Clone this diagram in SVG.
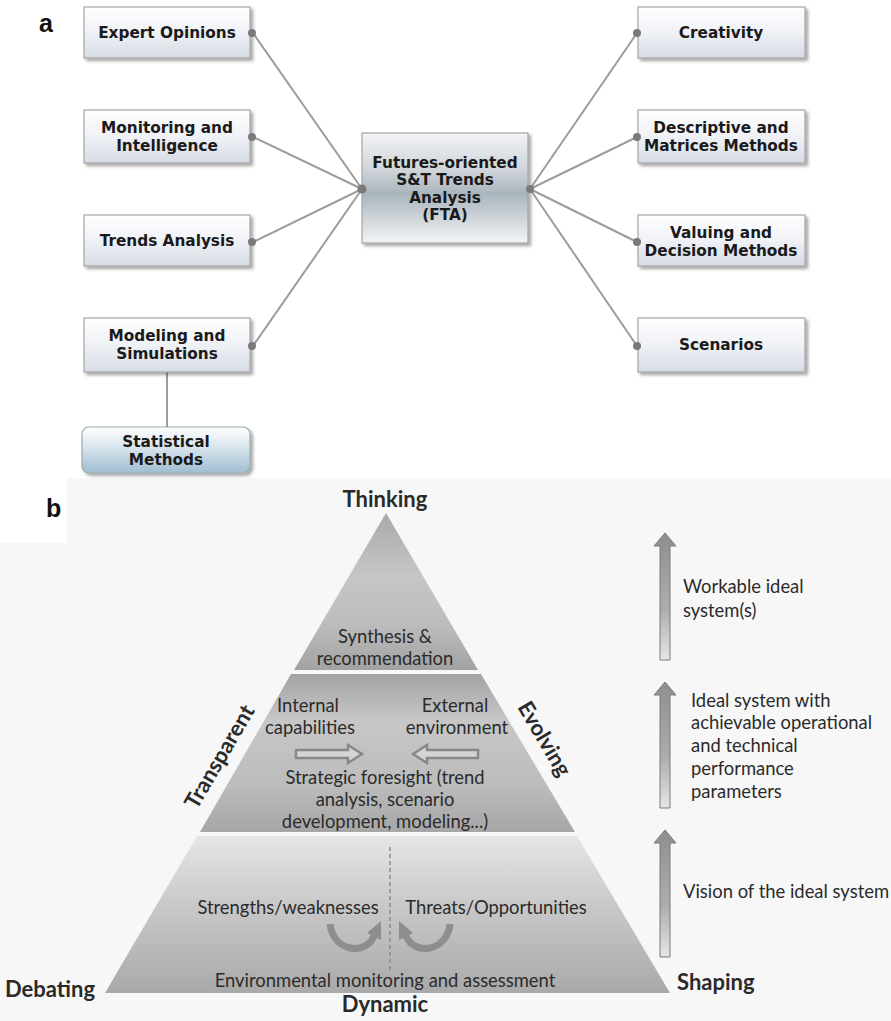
<svg xmlns="http://www.w3.org/2000/svg" width="891" height="1021" viewBox="0 0 891 1021">
<defs>
<style>
.box{fill:url(#boxGrad);stroke:#a4a4a4;stroke-width:1.2;filter:url(#sh)}
.bt{font-family:"DejaVu Sans",Verdana,sans-serif;font-weight:bold;font-size:15.3px;fill:#1a1a1a;text-anchor:middle}
.lab{font-family:"Liberation Sans",Arial,sans-serif;font-weight:bold;font-size:25px;fill:#111}
.con{stroke:#9c9c9c;stroke-width:2;fill:none}
.dot{fill:#7a7a7a}
.pt{font-family:Lato,"Open Sans",sans-serif;font-size:18.4px;fill:#2b2b2b;text-anchor:middle}
.pl{font-family:Lato,"Open Sans",sans-serif;font-size:18.4px;fill:#2b2b2b}
.big{font-family:Lato,"Open Sans",sans-serif;font-size:22px;font-weight:bold;fill:#2a2a2a}
.uarr{fill:url(#arrGrad);stroke:#7a7a7a;stroke-width:1}
.hol{fill:#d4d4d4;stroke:#888;stroke-width:2.5}
.carc{fill:none;stroke:#8e8e8e;stroke-width:7}
.chead{fill:#8e8e8e}
</style>
<filter id="sh" x="-10%" y="-10%" width="125%" height="135%">
<feDropShadow dx="2.5" dy="2.5" stdDeviation="1.5" flood-color="#000" flood-opacity="0.35"/>
</filter>
<linearGradient id="boxGrad" x1="0" y1="0" x2="0" y2="1">
<stop offset="0" stop-color="#ffffff"/>
<stop offset="0.45" stop-color="#f1f3f7"/>
<stop offset="1" stop-color="#d6dce6"/>
</linearGradient>
<linearGradient id="cenGrad" x1="0" y1="0" x2="0" y2="1">
<stop offset="0" stop-color="#f2f3f5"/>
<stop offset="0.35" stop-color="#cdd3d8"/>
<stop offset="0.55" stop-color="#a9b5bd"/>
<stop offset="0.8" stop-color="#d3d8dc"/>
<stop offset="1" stop-color="#f3f4f5"/>
</linearGradient>
<linearGradient id="statGrad" x1="0" y1="0" x2="0" y2="1">
<stop offset="0" stop-color="#ffffff"/>
<stop offset="0.5" stop-color="#d3e1ea"/>
<stop offset="1" stop-color="#9ebdd1"/>
</linearGradient>
<linearGradient id="g1" gradientUnits="userSpaceOnUse" x1="0" y1="513" x2="0" y2="670">
<stop offset="0" stop-color="#a9a9a9"/>
<stop offset="0.4" stop-color="#c6c6c6"/>
<stop offset="0.7" stop-color="#bdbdbd"/>
<stop offset="1" stop-color="#a2a2a2"/>
</linearGradient>
<linearGradient id="g2" gradientUnits="userSpaceOnUse" x1="0" y1="674" x2="0" y2="832">
<stop offset="0" stop-color="#a3a3a3"/>
<stop offset="0.3" stop-color="#c7c7c7"/>
<stop offset="0.7" stop-color="#bcbcbc"/>
<stop offset="1" stop-color="#a6a6a6"/>
</linearGradient>
<linearGradient id="g3" gradientUnits="userSpaceOnUse" x1="0" y1="836" x2="0" y2="993">
<stop offset="0" stop-color="#e6e6e6"/>
<stop offset="0.45" stop-color="#c8c8c8"/>
<stop offset="1" stop-color="#a9a9a9"/>
</linearGradient>
<linearGradient id="arrGrad" x1="0" y1="0" x2="0" y2="1">
<stop offset="0" stop-color="#8e8e8e"/>
<stop offset="0.6" stop-color="#adadad"/>
<stop offset="1" stop-color="#e6e6e6"/>
</linearGradient>
</defs>

<rect x="0" y="0" width="891" height="1021" fill="#ffffff"/>

<!-- Part a -->
<text class="lab" x="39" y="32">a</text>

<g id="connectors">
<line class="con" x1="362" y1="189" x2="253" y2="33"/>
<line class="con" x1="362" y1="189" x2="253" y2="137"/>
<line class="con" x1="362" y1="189" x2="253" y2="242"/>
<line class="con" x1="362" y1="189" x2="253" y2="346"/>
<line class="con" x1="530" y1="189" x2="637" y2="33"/>
<line class="con" x1="530" y1="189" x2="637" y2="137"/>
<line class="con" x1="530" y1="189" x2="637" y2="242"/>
<line class="con" x1="530" y1="189" x2="637" y2="346"/>
<line class="con" x1="167" y1="372" x2="167" y2="427"/>
</g>

<g id="expert">
<rect class="box" x="84" y="7" width="166" height="51"/>
<text class="bt" x="167" y="38">Expert Opinions</text>
<circle class="dot" cx="252" cy="33" r="4"/>
</g>
<g id="monitoring">
<rect class="box" x="84" y="110" width="166" height="53"/>
<text class="bt" x="167" y="133">Monitoring and</text>
<text class="bt" x="167" y="151">Intelligence</text>
<circle class="dot" cx="252" cy="137" r="4"/>
</g>
<g id="trends">
<rect class="box" x="84" y="215" width="166" height="51"/>
<text class="bt" x="167" y="246">Trends Analysis</text>
<circle class="dot" cx="252" cy="242" r="4"/>
</g>
<g id="modeling">
<rect class="box" x="84" y="318" width="166" height="54"/>
<text class="bt" x="167" y="341">Modeling and</text>
<text class="bt" x="167" y="359">Simulations</text>
<circle class="dot" cx="252" cy="346" r="4"/>
</g>
<g id="statistical">
<rect x="82" y="427" width="168" height="46" rx="7" fill="url(#statGrad)" stroke="#9aa" stroke-width="1.2" filter="url(#sh)"/>
<text class="bt" x="166" y="447">Statistical</text>
<text class="bt" x="166" y="465">Methods</text>
</g>
<g id="fta">
<rect x="362" y="133" width="166" height="110" fill="url(#cenGrad)" stroke="#a4a4a4" stroke-width="1.2" filter="url(#sh)"/>
<text class="bt" x="445" y="168">Futures-oriented</text>
<text class="bt" x="445" y="185">S&amp;T Trends</text>
<text class="bt" x="445" y="203">Analysis</text>
<text class="bt" x="445" y="220">(FTA)</text>
<circle class="dot" cx="362" cy="189" r="4.5"/>
<circle class="dot" cx="530" cy="189" r="4"/>
</g>
<g id="creativity">
<rect class="box" x="638" y="7" width="167" height="51"/>
<text class="bt" x="721" y="38">Creativity</text>
<circle class="dot" cx="637" cy="33" r="4"/>
</g>
<g id="descriptive">
<rect class="box" x="638" y="110" width="167" height="53"/>
<text class="bt" x="721" y="133">Descriptive and</text>
<text class="bt" x="721" y="151">Matrices Methods</text>
<circle class="dot" cx="637" cy="137" r="4"/>
</g>
<g id="valuing">
<rect class="box" x="638" y="215" width="167" height="51"/>
<text class="bt" x="721" y="238">Valuing and</text>
<text class="bt" x="721" y="256">Decision Methods</text>
<circle class="dot" cx="637" cy="242" r="4"/>
</g>
<g id="scenarios">
<rect class="box" x="638" y="318" width="167" height="54"/>
<text class="bt" x="721" y="350">Scenarios</text>
<circle class="dot" cx="637" cy="346" r="4"/>
</g>

<!-- Part b -->
<rect x="0" y="478" width="891" height="543" fill="#f7f7f7"/>
<rect x="0" y="478" width="67" height="65" fill="#ffffff"/>
<text class="lab" x="46" y="517">b</text>

<g id="pyramid-top">
<polygon points="386,513 294,670 478,670" fill="url(#g1)"/>
<text class="pt" x="385" y="643">Synthesis &amp;</text>
<text class="pt" x="385" y="665">recommendation</text>
</g>
<g id="pyramid-mid">
<polygon points="291,674 481,674 575,832 200,832" fill="url(#g2)"/>
<text class="pt" x="308" y="712">Internal</text>
<text class="pt" x="310" y="734">capabilities</text>
<text class="pt" x="455" y="712">External</text>
<text class="pt" x="457" y="734">environment</text>
<path class="hol" d="M296,750 H348 V745 L362,754 L348,763 V758 H296 Z"/>
<path class="hol" d="M478,750 H427 V745 L413,754 L427,763 V758 H478 Z"/>
<text class="pt" x="385" y="784">Strategic foresight (trend</text>
<text class="pt" x="385" y="806">analysis, scenario</text>
<text class="pt" x="385" y="828">development, modeling...)</text>
</g>
<g id="pyramid-bottom">
<polygon points="197,836 577,836 670,993 105,993" fill="url(#g3)"/>
<line x1="390" y1="847" x2="390" y2="970" stroke="#8a8a8a" stroke-width="1.5" stroke-dasharray="4,3"/>
<text class="pt" x="288" y="914">Strengths/weaknesses</text>
<text class="pt" x="496" y="914">Threats/Opportunities</text>
<path class="carc" d="M330,924 C333,952 366,956 374,936"/>
<polygon class="chead" points="381,940 367,933 381,921"/>
<path class="carc" d="M450,924 C447,952 414,956 406,936"/>
<polygon class="chead" points="399,940 413,933 399,921"/>
<text class="pt" x="385" y="987">Environmental monitoring and assessment</text>
</g>

<g id="side-labels">
<text class="big" x="385" y="507" text-anchor="middle">Thinking</text>
<text class="big" transform="translate(220,757) rotate(-59.6)" x="0" y="7" text-anchor="middle">Transparent</text>
<text class="big" transform="translate(544,739) rotate(59.4)" x="0" y="7" text-anchor="middle">Evolving</text>
<text class="big" x="5" y="997">Debating</text>
<text class="big" x="385" y="1012" text-anchor="middle">Dynamic</text>
<text class="big" x="677" y="990">Shaping</text>
</g>

<g id="progress-arrows">
<path class="uarr" d="M665,533 L676,546 L670,546 L670,660 L660,660 L660,546 L654,546 Z"/>
<path class="uarr" d="M665,682 L676,695 L670,695 L670,808 L660,808 L660,695 L654,695 Z"/>
<path class="uarr" d="M665,830 L676,843 L670,843 L670,957 L660,957 L660,843 L654,843 Z"/>
<text class="pl" x="683" y="593">Workable ideal</text>
<text class="pl" x="683" y="617">system(s)</text>
<text class="pl" x="691" y="707">Ideal system with</text>
<text class="pl" x="691" y="729">achievable operational</text>
<text class="pl" x="691" y="752">and technical</text>
<text class="pl" x="691" y="775">performance</text>
<text class="pl" x="691" y="798">parameters</text>
<text class="pl" x="683" y="898">Vision of the ideal system</text>
</g>
</svg>
